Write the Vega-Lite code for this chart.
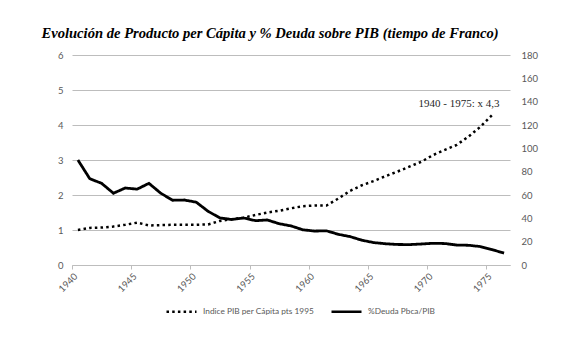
{
  "$schema": "https://vega.github.io/schema/vega-lite/v6.json",
  "autosize": "none",
  "width": 438,
  "height": 210,
  "padding": {"left": 72, "top": 55, "right": 78, "bottom": 88},
  "background": "white",
  "title": {
    "text": "Evolución de Producto per Cápita y % Deuda sobre PIB (tiempo de Franco)",
    "anchor": "start",
    "font": "Liberation Serif",
    "fontSize": 14.6,
    "fontStyle": "italic",
    "fontWeight": "bold",
    "color": "#000000",
    "dx": -15,
    "offset": 9
  },
  "datasets": {
    "pib": [
      {"year": 1940, "series": "Indice PIB per Cápita pts 1995", "value": 1.00},
      {"year": 1941, "series": "Indice PIB per Cápita pts 1995", "value": 1.06},
      {"year": 1942, "series": "Indice PIB per Cápita pts 1995", "value": 1.07},
      {"year": 1943, "series": "Indice PIB per Cápita pts 1995", "value": 1.10},
      {"year": 1944, "series": "Indice PIB per Cápita pts 1995", "value": 1.15},
      {"year": 1945, "series": "Indice PIB per Cápita pts 1995", "value": 1.21},
      {"year": 1946, "series": "Indice PIB per Cápita pts 1995", "value": 1.13},
      {"year": 1947, "series": "Indice PIB per Cápita pts 1995", "value": 1.14},
      {"year": 1948, "series": "Indice PIB per Cápita pts 1995", "value": 1.15},
      {"year": 1949, "series": "Indice PIB per Cápita pts 1995", "value": 1.15},
      {"year": 1950, "series": "Indice PIB per Cápita pts 1995", "value": 1.15},
      {"year": 1951, "series": "Indice PIB per Cápita pts 1995", "value": 1.16},
      {"year": 1952, "series": "Indice PIB per Cápita pts 1995", "value": 1.26},
      {"year": 1953, "series": "Indice PIB per Cápita pts 1995", "value": 1.31},
      {"year": 1954, "series": "Indice PIB per Cápita pts 1995", "value": 1.35},
      {"year": 1955, "series": "Indice PIB per Cápita pts 1995", "value": 1.43},
      {"year": 1956, "series": "Indice PIB per Cápita pts 1995", "value": 1.50},
      {"year": 1957, "series": "Indice PIB per Cápita pts 1995", "value": 1.55},
      {"year": 1958, "series": "Indice PIB per Cápita pts 1995", "value": 1.62},
      {"year": 1959, "series": "Indice PIB per Cápita pts 1995", "value": 1.68},
      {"year": 1960, "series": "Indice PIB per Cápita pts 1995", "value": 1.70},
      {"year": 1961, "series": "Indice PIB per Cápita pts 1995", "value": 1.70},
      {"year": 1962, "series": "Indice PIB per Cápita pts 1995", "value": 1.90},
      {"year": 1963, "series": "Indice PIB per Cápita pts 1995", "value": 2.12},
      {"year": 1964, "series": "Indice PIB per Cápita pts 1995", "value": 2.28},
      {"year": 1965, "series": "Indice PIB per Cápita pts 1995", "value": 2.40},
      {"year": 1966, "series": "Indice PIB per Cápita pts 1995", "value": 2.54},
      {"year": 1967, "series": "Indice PIB per Cápita pts 1995", "value": 2.67},
      {"year": 1968, "series": "Indice PIB per Cápita pts 1995", "value": 2.81},
      {"year": 1969, "series": "Indice PIB per Cápita pts 1995", "value": 2.95},
      {"year": 1970, "series": "Indice PIB per Cápita pts 1995", "value": 3.14},
      {"year": 1971, "series": "Indice PIB per Cápita pts 1995", "value": 3.29},
      {"year": 1972, "series": "Indice PIB per Cápita pts 1995", "value": 3.43},
      {"year": 1973, "series": "Indice PIB per Cápita pts 1995", "value": 3.67},
      {"year": 1974, "series": "Indice PIB per Cápita pts 1995", "value": 3.95},
      {"year": 1975, "series": "Indice PIB per Cápita pts 1995", "value": 4.29}
    ],
    "deuda": [
      {"year": 1940, "series": "%Deuda Pbca/PIB", "value": 90},
      {"year": 1941, "series": "%Deuda Pbca/PIB", "value": 74},
      {"year": 1942, "series": "%Deuda Pbca/PIB", "value": 70},
      {"year": 1943, "series": "%Deuda Pbca/PIB", "value": 61.5},
      {"year": 1944, "series": "%Deuda Pbca/PIB", "value": 66},
      {"year": 1945, "series": "%Deuda Pbca/PIB", "value": 65},
      {"year": 1946, "series": "%Deuda Pbca/PIB", "value": 70},
      {"year": 1947, "series": "%Deuda Pbca/PIB", "value": 61.5},
      {"year": 1948, "series": "%Deuda Pbca/PIB", "value": 55.5},
      {"year": 1949, "series": "%Deuda Pbca/PIB", "value": 55.7},
      {"year": 1950, "series": "%Deuda Pbca/PIB", "value": 53.8},
      {"year": 1951, "series": "%Deuda Pbca/PIB", "value": 46},
      {"year": 1952, "series": "%Deuda Pbca/PIB", "value": 40.3},
      {"year": 1953, "series": "%Deuda Pbca/PIB", "value": 39},
      {"year": 1954, "series": "%Deuda Pbca/PIB", "value": 40.3},
      {"year": 1955, "series": "%Deuda Pbca/PIB", "value": 38},
      {"year": 1956, "series": "%Deuda Pbca/PIB", "value": 38.6},
      {"year": 1957, "series": "%Deuda Pbca/PIB", "value": 35.4},
      {"year": 1958, "series": "%Deuda Pbca/PIB", "value": 33.5},
      {"year": 1959, "series": "%Deuda Pbca/PIB", "value": 30.2},
      {"year": 1960, "series": "%Deuda Pbca/PIB", "value": 29.1},
      {"year": 1961, "series": "%Deuda Pbca/PIB", "value": 29.3},
      {"year": 1962, "series": "%Deuda Pbca/PIB", "value": 26.3},
      {"year": 1963, "series": "%Deuda Pbca/PIB", "value": 24.3},
      {"year": 1964, "series": "%Deuda Pbca/PIB", "value": 21.2},
      {"year": 1965, "series": "%Deuda Pbca/PIB", "value": 19.2},
      {"year": 1966, "series": "%Deuda Pbca/PIB", "value": 18.2},
      {"year": 1967, "series": "%Deuda Pbca/PIB", "value": 17.6},
      {"year": 1968, "series": "%Deuda Pbca/PIB", "value": 17.5},
      {"year": 1969, "series": "%Deuda Pbca/PIB", "value": 18},
      {"year": 1970, "series": "%Deuda Pbca/PIB", "value": 18.6},
      {"year": 1971, "series": "%Deuda Pbca/PIB", "value": 18.4},
      {"year": 1972, "series": "%Deuda Pbca/PIB", "value": 17.1},
      {"year": 1973, "series": "%Deuda Pbca/PIB", "value": 16.9},
      {"year": 1974, "series": "%Deuda Pbca/PIB", "value": 15.8},
      {"year": 1975, "series": "%Deuda Pbca/PIB", "value": 13.1},
      {"year": 1976, "series": "%Deuda Pbca/PIB", "value": 10.2}
    ],
    "nota": [
      {"label": "1940 - 1975: x 4,3"}
    ]
  },
  "config": {
    "view": {"stroke": null},
    "axis": {
      "labelFont": "Lato",
      "labelColor": "#595959",
      "labelFontSize": 9.5,
      "title": null
    },
    "axisY": {
      "grid": true,
      "gridColor": "#bdbdbd",
      "gridWidth": 1,
      "gridOpacity": 1
    }
  },
  "layer": [
    {
      "layer": [
        {
          "data": {"name": "pib"},
          "mark": {"type": "line", "strokeWidth": 2.5, "strokeCap": "butt", "color": "#000000"},
          "encoding": {
            "x": {
              "field": "year",
              "type": "quantitative",
              "scale": {"domain": [1939.5, 1976.5], "nice": false, "zero": false},
              "axis": {
                "title": null,
                "values": [1940, 1945, 1950, 1955, 1960, 1965, 1970, 1975],
                "format": "d",
                "labelAngle": -45,
                "grid": false,
                "domain": true,
                "domainColor": "#bdbdbd",
                "domainWidth": 1,
                "ticks": true,
                "tickColor": "#bdbdbd",
                "tickSize": 4,
                "tickOffset": -5.9,
                "labelPadding": 2
              }
            },
            "y": {
              "field": "value",
              "type": "quantitative",
              "scale": {"domain": [0, 6], "nice": false},
              "axis": {
                "title": null,
                "orient": "left",
                "values": [0, 1, 2, 3, 4, 5, 6],
                "grid": true,
                "domain": false,
                "ticks": false,
                "labelPadding": 9
              }
            },
            "strokeDash": {
              "field": "series",
              "type": "nominal",
              "scale": {
                "domain": ["Indice PIB per Cápita pts 1995", "%Deuda Pbca/PIB"],
                "range": [[2.5, 3.2], [1, 0]]
              },
              "legend": {
                "title": null,
                "orient": "none",
                "direction": "horizontal",
                "legendX": 93,
                "legendY": 240,
                "symbolType": "stroke",
                "symbolSize": 900,
                "symbolStrokeWidth": 2.5,
                "symbolStrokeColor": "#000000",
                "labelFont": "Lato",
                "labelFontSize": 8.3,
                "labelColor": "#595959",
                "labelOffset": 5,
                "columnPadding": 12
              }
            }
          }
        },
        {
          "data": {"name": "nota"},
          "mark": {"type": "text", "font": "Liberation Serif", "fontSize": 11, "color": "#262626"},
          "encoding": {
            "x": {"datum": 1972.2, "type": "quantitative"},
            "y": {
              "datum": 4.6,
              "type": "quantitative",
              "axis": {
                "title": null,
                "orient": "left",
                "values": [0, 1, 2, 3, 4, 5, 6],
                "grid": true,
                "domain": false,
                "ticks": false,
                "labelPadding": 9
              }
            },
            "text": {"field": "label", "type": "nominal"}
          }
        }
      ]
    },
    {
      "data": {"name": "deuda"},
      "mark": {"type": "line", "strokeWidth": 2.8, "color": "#000000"},
      "encoding": {
        "x": {"field": "year", "type": "quantitative"},
        "y": {
          "field": "value",
          "type": "quantitative",
          "scale": {"domain": [0, 180], "nice": false},
          "axis": {
            "title": null,
            "orient": "right",
            "values": [0, 20, 40, 60, 80, 100, 120, 140, 160, 180],
            "grid": false,
            "domain": false,
            "ticks": false,
            "labelPadding": 11
          }
        },
        "strokeDash": {"field": "series", "type": "nominal"}
      }
    }
  ],
  "resolve": {"scale": {"y": "independent"}}
}
